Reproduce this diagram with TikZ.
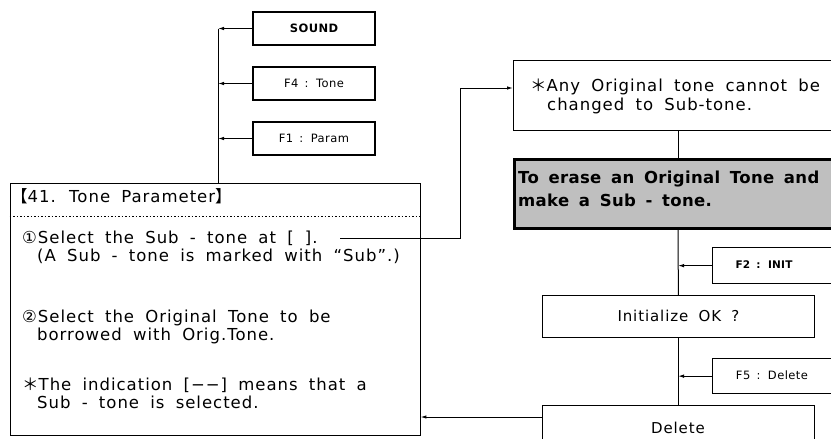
\documentclass[tikz,border=0pt]{standalone}
\usepackage{fontspec}
\setmainfont{DejaVu Sans}
\newfontfamily\tx[LetterSpace=6,WordSpace=1.8]{DejaVu Sans}
\newfontfamily\tb[LetterSpace=2,WordSpace=1.6]{DejaVu Sans}
\newfontfamily\ts[LetterSpace=4,WordSpace=1.5]{DejaVu Sans}
\newfontfamily\cjk{Noto Sans CJK SC}
\usetikzlibrary{arrows.meta}
\begin{document}
\begin{tikzpicture}[x=1pt,y=-1pt,
  fbox/.style={draw,line width=1.3pt,minimum width=122pt,minimum height=33pt,inner sep=0pt,font=\ts\fontsize{11.5}{13}\selectfont},
  bigtxt/.style={anchor=base west,inner sep=0pt,font=\tx\fontsize{16.5}{18}\selectfont},
  boldtxt/.style={anchor=base west,inner sep=0pt,font=\tb\bfseries\fontsize{16.5}{18}\selectfont},
  lbl/.style={inner sep=0pt,font=\ts\fontsize{11.5}{13}\selectfont},
  conn/.style={line width=1pt},
  arr/.style={line width=1pt,-{Latex[length=6pt,width=3.5pt]}},
  thinbox/.style={draw,line width=0.8pt,inner sep=0pt}]
\useasboundingbox (0,0) rectangle (831,439);
\clip (0,0) rectangle (831,439);
% left upper boxes
\node[fbox] (sound) at (314,28.5) {\bfseries SOUND};
\node[fbox] (tone) at (314,83.5) {F4 : Tone};
\node[fbox] (param) at (314,138.5) {F1 : Param};
% main box
\node[thinbox,line width=0.9pt,minimum width=410pt,minimum height=252pt] (main) at (215,309) {};
\coordinate (dl) at (0,216);
\draw[line width=0.8pt,dash pattern=on 1.5pt off 2pt] (main.west |- dl) -- (main.east |- dl);
\node[bigtxt] (title) at (11,202) {{\cjk 【}41. Tone Parameter{\cjk 】}};
\node[bigtxt] (l1) at (22,243) {①Select the Sub - tone at [ ].};
\node[bigtxt] (l2) at (37,261) {(A Sub - tone is marked with “Sub”.)};
\node[bigtxt] (l3) at (22,322) {②Select the Original Tone to be};
\node[bigtxt] (l4) at (37,340) {borrowed with Orig.Tone.};
\node[bigtxt] (l5) at (22,390) {{\cjk ＊}The indication [−−] means that a};
\node[bigtxt] (l6) at (37,408) {Sub - tone is selected.};
% connectors of upper left
\coordinate (ja) at (218,28.5);
\coordinate (jb) at (218,83.5);
\coordinate (jc) at (218,138.5);
\draw[conn] (ja) -- (ja |- main.north);
\draw[arr] (sound.west) -- (ja);
\draw[arr] (tone.west) -- (jb);
\draw[arr] (param.west) -- (jc);
% right column
\node[thinbox,line width=1.3pt,minimum width=330pt,minimum height=70pt,anchor=north west] (note) at (513,60) {};
\node[bigtxt] (n1) at (530,91) {{\cjk ＊}Any Original tone cannot be};
\node[bigtxt] (n2) at (547,110) {changed to Sub-tone.};
\node[draw,line width=2.5pt,fill=black!25,minimum width=330pt,minimum height=69pt,anchor=north west,inner sep=0pt] (gray) at (513,158) {};
\node[boldtxt] (g1) at (518,183) {To erase an Original Tone and};
\node[boldtxt] (g2) at (518,206) {make a Sub - tone.};
\node[fbox,minimum width=130pt,minimum height=36pt,anchor=north west] (f2) at (712,247) {};
\node[inner sep=0pt,font=\tb\bfseries\fontsize{10.5}{12}\selectfont] (f2t) at (764,265) {F2 : INIT};
\node[thinbox,minimum width=272pt,minimum height=42pt,anchor=north west,font=\tx\fontsize{15}{18}\selectfont] (init) at (542,295) {Initialize OK ?};
\node[fbox,minimum width=130pt,minimum height=35pt,anchor=north west] (f5) at (712,358) {};
\node[lbl] (f5t) at (772,375.5) {F5 : Delete};
\node[thinbox,minimum width=272pt,minimum height=60pt,anchor=north west] (del) at (542,405) {};
\node[inner sep=0pt,font=\tx\fontsize{15}{18}\selectfont] (delt) at (678,428) {Delete};
% right connectors
\coordinate (vx) at (678,0);
\draw[conn] (note.south -| vx) -- (gray.north -| vx);
\draw[conn] (gray.south -| vx) -- (init.north);
\draw[conn] (init.south) -- (del.north);
\draw[arr] (f2.west) -- (f2.west -| vx);
\draw[arr] (f5.west) -- (f5.west -| vx);
\coordinate (c0) at (340,238);
\coordinate (c1) at (460,88);
\draw[arr] (c0) -| (c1) -- (c1 -| note.west);
\coordinate (d0) at (542,417);
\draw[arr] (d0) -- (d0 -| main.east);
\end{tikzpicture}
\end{document}
